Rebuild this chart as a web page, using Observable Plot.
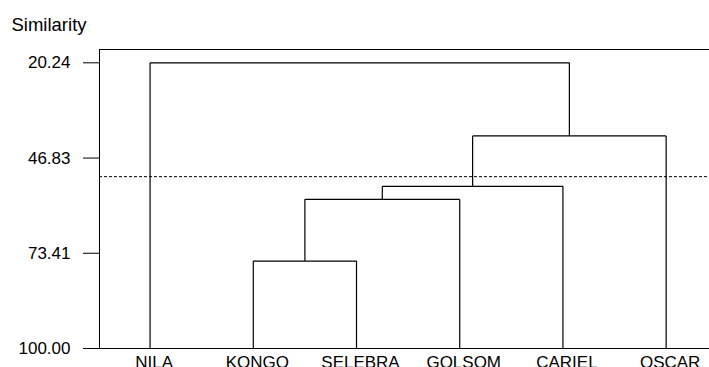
<!DOCTYPE html>
<html>
<head>
<meta charset="utf-8">
<script src="https://cdn.jsdelivr.net/npm/d3@7"></script>
<script src="https://cdn.jsdelivr.net/npm/@observablehq/plot@0.6"></script>
<style>
  html, body { margin: 0; padding: 0; background: #fff; }
  #chart svg { display: block; }
</style>
</head>
<body>
<div id="chart"></div>
<script>
// Leaves in dendrogram order
const leaves = ["NILA", "KONGO", "SELEBRA", "GOLSOM", "CARIEL", "OSCAR"];
// Merge steps: left child, right child, similarity level ("#k" = cluster from step k)
const mergeLeft = ["KONGO", "#1", "#2", "#3", "NILA"];
const mergeRight = ["SELEBRA", "GOLSOM", "CARIEL", "OSCAR", "#4"];
const mergeSimilarity = [75.58, 58.36, 54.73, 40.64, 20.24];
// Cut line level
const cutSimilarity = [52.02];
// Y tick values
const yTicks = [20.24, 46.83, 73.41, 100.0];

const leafSimilarity = 100;
const pos = {};
leaves.forEach((n, i) => (pos[n] = {x: i, s: leafSimilarity}));
const segs = [];
mergeLeft.forEach((l, k) => {
  const a = pos[l], b = pos[mergeRight[k]], s = mergeSimilarity[k];
  segs.push({x1: a.x, y1: a.s, x2: a.x, y2: s});
  segs.push({x1: b.x, y1: b.s, x2: b.x, y2: s});
  segs.push({x1: a.x, y1: s, x2: b.x, y2: s});
  pos["#" + (k + 1)] = {x: (a.x + b.x) / 2, s};
});
const leafData = leaves.map((n, i) => ({name: n, x: i, s: leafSimilarity}));

const xDomain = [-0.49, 5.42];
const yDomain = [16.52, 100];

const chart = Plot.plot({
  width: 709,
  height: 367,
  marginLeft: 99,
  marginRight: 0,
  marginTop: 49,
  marginBottom: 19,
  style: {fontFamily: "'Liberation Sans', Arial, sans-serif", fontSize: "17px", color: "#000", background: "#fff"},
  x: {domain: xDomain, axis: null},
  y: {domain: yDomain, reverse: true, axis: null},
  marks: [
    Plot.axisY({ticks: yTicks, tickFormat: d => d.toFixed(2), tickSize: 16, tickPadding: 13, label: null, fontSize: 17, stroke: "#000", fill: "#000"}),
    Plot.ruleY([yDomain[0]], {stroke: "#000"}),
    Plot.ruleY([yDomain[1]], {stroke: "#000"}),
    Plot.ruleX([xDomain[0]], {stroke: "#000"}),
    Plot.ruleY(cutSimilarity, {stroke: "#000", strokeDasharray: "3,2"}),
    Plot.link(segs, {x1: "x1", y1: "y1", x2: "x2", y2: "y2", stroke: "#000", strokeWidth: 1.2}),
    Plot.text(leafData, {x: "x", y: "s", text: "name", lineAnchor: "top", dy: 7, dx: 4, fontSize: 17, fill: "#000"}),
    Plot.text(["Similarity"], {frameAnchor: "top-left", textAnchor: "start", lineAnchor: "bottom", dx: -88, dy: -19, fontSize: 18.5, fill: "#000"})
  ]
});
document.getElementById("chart").appendChild(chart);
</script>
</body>
</html>
